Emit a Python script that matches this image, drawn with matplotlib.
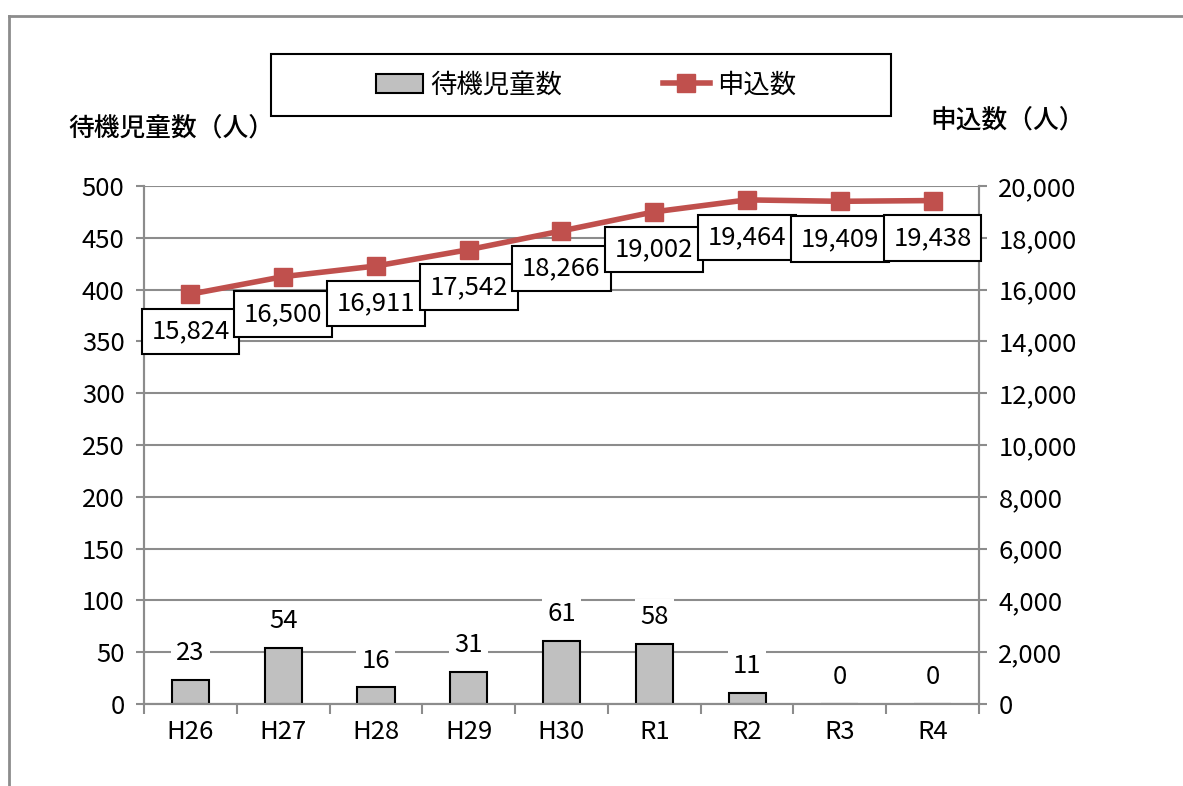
import matplotlib
matplotlib.use('Agg')
import matplotlib.pyplot as plt
from matplotlib.lines import Line2D
from matplotlib.patches import Patch, Rectangle
from matplotlib.ticker import FuncFormatter

plt.rcParams['font.family'] = ['Noto Sans CJK JP', 'DejaVu Sans']

# data
years = ['H26', 'H27', 'H28', 'H29', 'H30', 'R1', 'R2', 'R3', 'R4']
waiting = [23, 54, 16, 31, 61, 58, 11, 0, 0]
applications = [15824, 16500, 16911, 17542, 18266, 19002, 19464, 19409, 19438]

BAR_COLOR = '#C0C0C0'
LINE_COLOR = '#C0504D'
GRID_COLOR = '#8C8C8C'
FS = 18.5

fig = plt.figure(figsize=(11.83, 7.86), dpi=100)
ax = fig.add_axes([144 / 1183, 1 - 704 / 786, 835 / 1183, 518 / 786])
ax2 = ax.twinx()

x = list(range(len(years)))

#  Bars (left axis)
ax.bar(x, waiting, width=0.4, color=BAR_COLOR, edgecolor='black', linewidth=1.5, zorder=3)
for xi, v in zip(x, waiting):
    ax.annotate(str(v), (xi, v), xytext=(0, 10), textcoords='offset points',
                ha='center', va='bottom', fontsize=FS, zorder=4,
                bbox=dict(boxstyle='square,pad=0.2', fc='white', ec='none'))

ax.set_xlim(-0.5, len(years) - 0.5)
ax.set_ylim(0, 500)
ax.set_yticks(range(0, 501, 50))
ax.set_xticks(x)
ax.set_xticklabels(years)
ax.set_xticks([i + 0.5 for i in range(-1, len(years))], minor=True)
ax.tick_params(axis='x', which='major', length=0, pad=11, labelsize=FS)
ax.tick_params(axis='x', which='minor', length=7, color=GRID_COLOR, width=1.5)
ax.tick_params(axis='y', length=6, color=GRID_COLOR, width=1.5, labelsize=FS, pad=8)
ax.grid(axis='y', color=GRID_COLOR, linewidth=1.5, zorder=0)
ax.set_axisbelow(True)

#  Line (right axis)
ax2.plot(x, applications, color=LINE_COLOR, linewidth=4, marker='s',
         markersize=13, zorder=5)
for xi, v in zip(x, applications):
    ax2.annotate(f'{v:,}', (xi, v), xytext=(0, -27), textcoords='offset points',
                 ha='center', va='center', fontsize=FS, zorder=6,
                 bbox=dict(boxstyle='square,pad=0.38', fc='white', ec='black', lw=1.5))
ax2.set_ylim(0, 20000)
ax2.set_yticks(range(0, 20001, 2000))
ax2.yaxis.set_major_formatter(FuncFormatter(lambda v, p: f'{int(v):,}'))
ax2.tick_params(axis='y', length=6, color=GRID_COLOR, width=1.5, labelsize=FS, pad=8)

for a in (ax, ax2):
    a.spines['top'].set_visible(False)
    for s in ('left', 'right', 'bottom'):
        a.spines[s].set_color(GRID_COLOR)
        a.spines[s].set_linewidth(1.5)

#  Axis titles
fig.text(68 / 1183, 1 - 128 / 786, '待機児童数（人）', fontsize=18.5, fontweight='medium',
         ha='left', va='center')
fig.text(1085 / 1183, 1 - 120 / 786, '申込数（人）', fontsize=18.5, fontweight='medium',
         ha='right', va='center')

#  Legend (frame drawn separately to match its fixed width)
fig.add_artist(Rectangle((271 / 1183, 1 - 116 / 786), 620 / 1183, 62 / 786,
                         transform=fig.transFigure, fill=False, ec='black', lw=1.5))
handles = [
    Patch(facecolor=BAR_COLOR, edgecolor='black', linewidth=1.5),
    Line2D([0], [0], color=LINE_COLOR, linewidth=4, marker='s', markersize=13),
]
fig.legend(handles, ['待機児童数', '申込数'], loc='center',
           bbox_to_anchor=(586 / 1183, 1 - 85 / 786), ncol=2, fontsize=19,
           frameon=False, columnspacing=3.8, handletextpad=0.27, handlelength=1.8)

#  Outer frame
fig.add_artist(Line2D([9 / 1183, 1], [1 - 16 / 786, 1 - 16 / 786], color=GRID_COLOR, lw=2))
fig.add_artist(Line2D([9 / 1183, 9 / 1183], [0, 1 - 16 / 786], color=GRID_COLOR, lw=2))

fig.savefig('out.png', dpi=100)
plt.close(fig)
